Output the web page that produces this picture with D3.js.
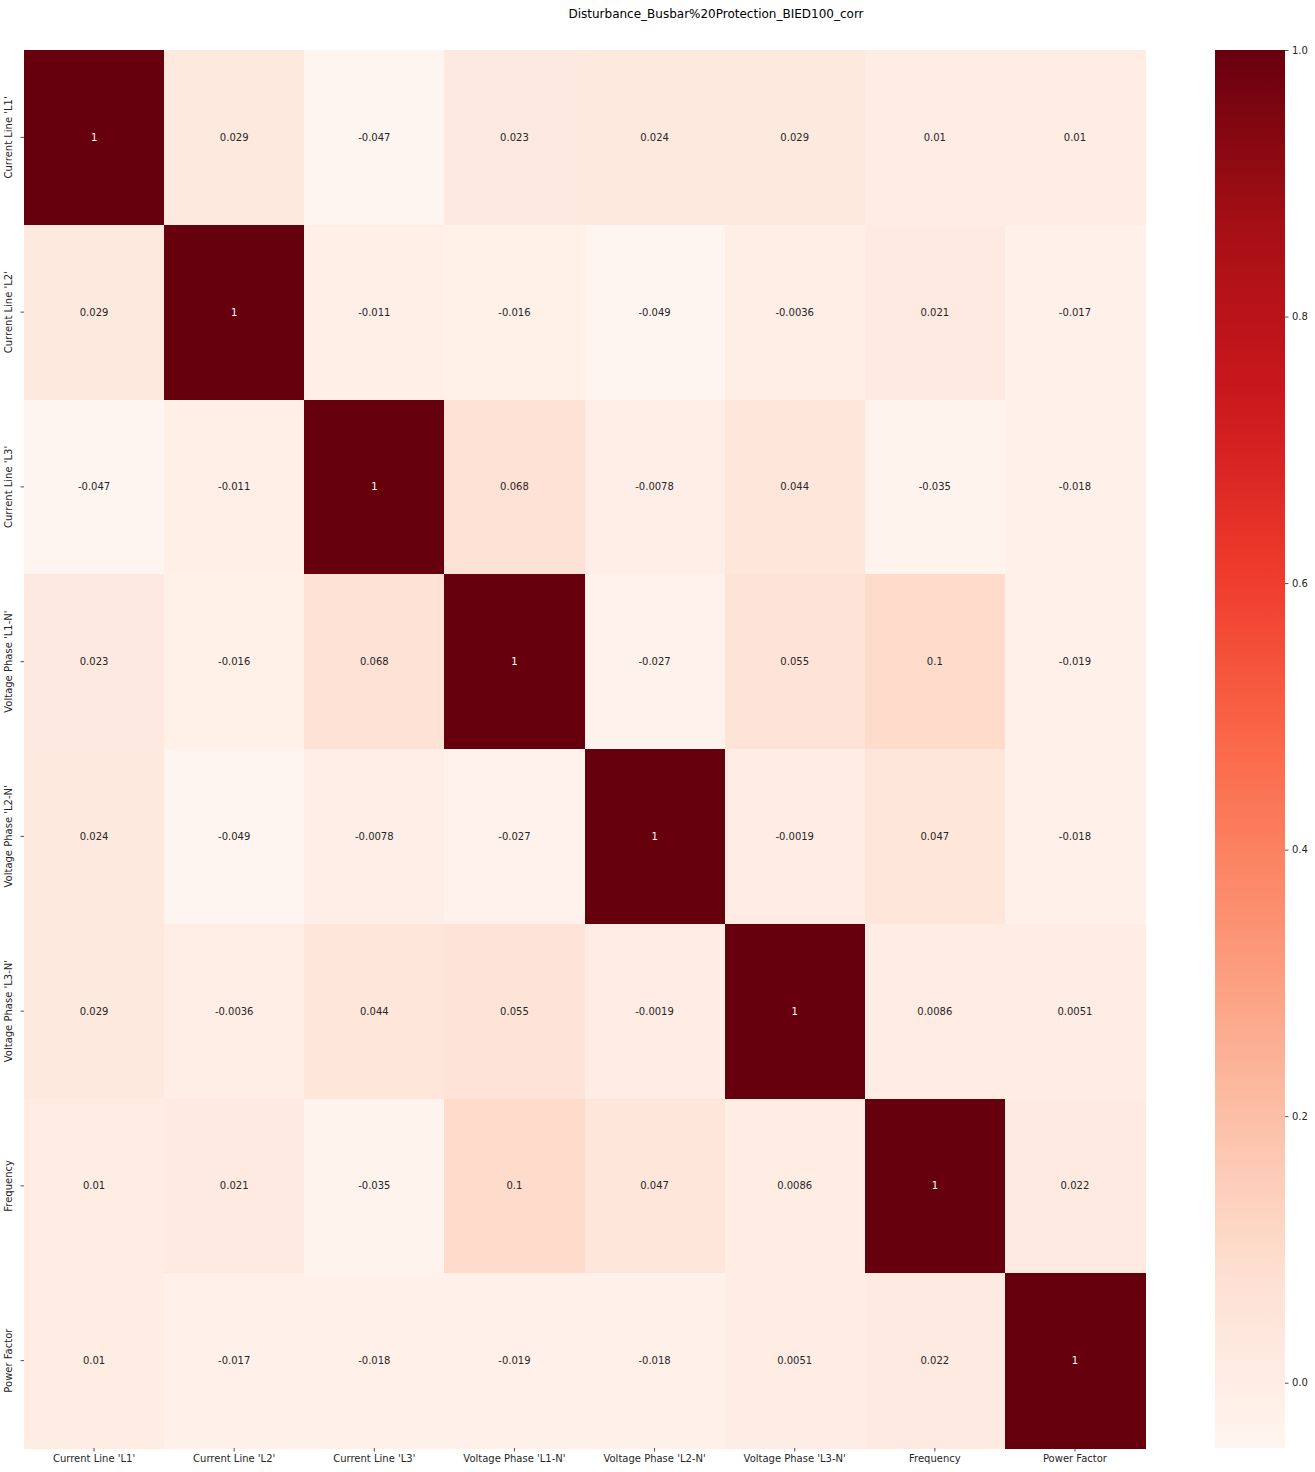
<!DOCTYPE html>
<html>
<head>
<meta charset="utf-8">
<script src="https://cdn.jsdelivr.net/npm/d3@7"></script>
<style>
  html, body { margin: 0; padding: 0; background: #fff; }
  svg { display: block; }
  text { font-family: "DejaVu Sans", sans-serif; }
</style>
</head>
<body>
<script>
const title = "Disturbance_Busbar%20Protection_BIED100_corr";
const categories = ["Current Line 'L1'", "Current Line 'L2'", "Current Line 'L3'", "Voltage Phase 'L1-N'", "Voltage Phase 'L2-N'", "Voltage Phase 'L3-N'", "Frequency", "Power Factor"];
const row0 = [1, 0.029, -0.047, 0.023, 0.024, 0.029, 0.01, 0.01];
const row1 = [0.029, 1, -0.011, -0.016, -0.049, -0.0036, 0.021, -0.017];
const row2 = [-0.047, -0.011, 1, 0.068, -0.0078, 0.044, -0.035, -0.018];
const row3 = [0.023, -0.016, 0.068, 1, -0.027, 0.055, 0.1, -0.019];
const row4 = [0.024, -0.049, -0.0078, -0.027, 1, -0.0019, 0.047, -0.018];
const row5 = [0.029, -0.0036, 0.044, 0.055, -0.0019, 1, 0.0086, 0.0051];
const row6 = [0.01, 0.021, -0.035, 0.1, 0.047, 0.0086, 1, 0.022];
const row7 = [0.01, -0.017, -0.018, -0.019, -0.018, 0.0051, 0.022, 1];
const matrix = [row0, row1, row2, row3, row4, row5, row6, row7];
const colorbarTicks = [0.0, 0.2, 0.4, 0.6, 0.8, 1.0];
const vmin = -0.049, vmax = 1;

const W = 1315, H = 1472;
const plot = { left: 24, top: 50, right: 1145, bottom: 1448 };
const cbar = { left: 1215, right: 1285 };

const svg = d3.select("body").append("svg").attr("width", W).attr("height", H);

// Reds colormap (matplotlib: linear segments between ColorBrewer stops)
const redsStops = ["#fff5f0", "#fee0d2", "#fcbba1", "#fc9272", "#fb6a4a", "#ef3b2c", "#cb181d", "#a50f15", "#67000d"];
const cmap = d3.scaleLinear()
  .domain(redsStops.map((d, i) => i / (redsStops.length - 1)))
  .range(redsStops)
  .interpolate(d3.interpolateRgb)
  .clamp(true);
const norm = d3.scaleLinear().domain([vmin, vmax]).range([0, 1]).clamp(true);
const color = v => cmap(norm(v));

const x = d3.scaleBand().domain(categories).range([plot.left, plot.right]).padding(0);
const y = d3.scaleBand().domain(categories).range([plot.top, plot.bottom]).padding(0);

const cells = [];
matrix.forEach((row, i) => row.forEach((v, j) => cells.push({ r: categories[i], c: categories[j], v })));

svg.append("g").selectAll("rect").data(cells).join("rect")
  .attr("x", d => x(d.c))
  .attr("y", d => y(d.r))
  .attr("width", x.bandwidth() + 0.5)
  .attr("height", y.bandwidth() + 0.5)
  .attr("fill", d => color(d.v))
  .attr("shape-rendering", "crispEdges");

function lum(c) {
  const rgb = d3.rgb(c);
  const f = u => { u /= 255; return u <= 0.03928 ? u / 12.92 : Math.pow((u + 0.055) / 1.055, 2.4); };
  return 0.2126 * f(rgb.r) + 0.7152 * f(rgb.g) + 0.0722 * f(rgb.b);
}

svg.append("g").selectAll("text").data(cells).join("text")
  .attr("x", d => x(d.c) + x.bandwidth() / 2)
  .attr("y", d => y(d.r) + y.bandwidth() / 2)
  .attr("text-anchor", "middle")
  .attr("dominant-baseline", "central")
  .attr("font-size", 10)
  .attr("fill", d => lum(color(d.v)) > 0.408 ? "#262626" : "#ffffff")
  .text(d => String(d.v));

// Axes
const xAxis = d3.axisBottom(x).tickSize(3.5).tickPadding(3.5);
const gx = svg.append("g").attr("transform", `translate(0,${plot.bottom})`).call(xAxis);
gx.select(".domain").remove();
gx.selectAll("text").attr("font-size", 10).attr("fill", "#262626").attr("font-family", "DejaVu Sans, sans-serif");
gx.selectAll("line").attr("stroke", "#262626").attr("stroke-width", 0.8);

const yAxis = d3.axisLeft(y).tickSize(3.5).tickPadding(3.5);
const gy = svg.append("g").attr("transform", `translate(${plot.left},0)`).call(yAxis);
gy.select(".domain").remove();
gy.selectAll("line").attr("stroke", "#262626").attr("stroke-width", 0.8);
gy.selectAll("text")
  .attr("font-size", 10).attr("fill", "#262626").attr("font-family", "DejaVu Sans, sans-serif")
  .attr("x", null).attr("dy", null)
  .attr("text-anchor", "middle")
  .attr("transform", "translate(-12,0) rotate(-90)");

// Colorbar
const cy = d3.scaleLinear().domain([vmin, vmax]).range([plot.bottom, plot.top]);
const defs = svg.append("defs");
const grad = defs.append("linearGradient").attr("id", "cbgrad")
  .attr("x1", 0).attr("y1", 1).attr("x2", 0).attr("y2", 0);
d3.range(0, 1.0001, 0.02).forEach(t => {
  grad.append("stop").attr("offset", t).attr("stop-color", cmap(t));
});
svg.append("rect")
  .attr("x", cbar.left).attr("y", plot.top)
  .attr("width", cbar.right - cbar.left).attr("height", plot.bottom - plot.top)
  .attr("fill", "url(#cbgrad)");

const cAxis = d3.axisRight(cy).tickValues(colorbarTicks).tickFormat(d3.format(".1f")).tickSize(3.5).tickPadding(3.5);
const gc = svg.append("g").attr("transform", `translate(${cbar.right},0)`).call(cAxis);
gc.select(".domain").remove();
gc.selectAll("line").attr("stroke", "#262626").attr("stroke-width", 0.8);
gc.selectAll("text").attr("font-size", 10).attr("fill", "#262626").attr("font-family", "DejaVu Sans, sans-serif");

// Title
svg.append("text")
  .attr("x", 716).attr("y", 18)
  .attr("text-anchor", "middle")
  .attr("font-size", 12)
  .attr("fill", "#000")
  .text(title);
</script>
</body>
</html>
